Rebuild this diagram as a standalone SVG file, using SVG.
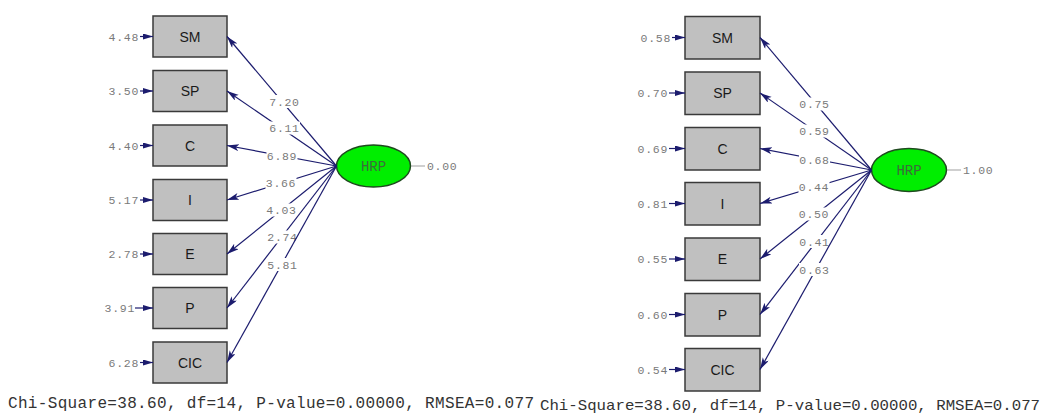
<svg xmlns="http://www.w3.org/2000/svg" width="1043" height="417" viewBox="0 0 1043 417">
<defs>
<style>
.box{fill:#c0c0c0;stroke:#3a3a3a;stroke-width:1.5}
.bl{font-family:"Liberation Sans",Arial,sans-serif;font-size:14px;fill:#1a1a1a;text-anchor:middle}
.num{font-family:"Liberation Mono","Courier New",monospace;font-size:11.5px;letter-spacing:0.7px;fill:#7a7a7a}
.lbl{font-family:"Liberation Mono","Courier New",monospace;font-size:11.5px;letter-spacing:0.7px;fill:#7a7a7a;text-anchor:middle}
.bg{fill:#ffffff}
.ln{stroke:#1c1c6e;stroke-width:1.2;fill:none;marker-end:url(#ah)}
.er{stroke:#1c1c6e;stroke-width:1.2;fill:none;marker-end:url(#ah2)}
.lat{fill:#00ee00;stroke:#1e4a1e;stroke-width:1.5}
.lt{font-family:"Liberation Mono","Courier New",monospace;font-size:14px;fill:#3d6b3d;text-anchor:middle}
.gl{stroke:#b0b0b0;stroke-width:1.2}
.chi{font-family:"Liberation Mono","Courier New",monospace;font-size:16px;fill:#333333}
</style>
<marker id="ah" markerUnits="userSpaceOnUse" markerWidth="14" markerHeight="9" refX="12" refY="3.5" orient="auto">
<path d="M0,0 L12,3.5 L0,7 L3,3.5 z" fill="#1c1c6e"/>
</marker>
<marker id="ah2" markerUnits="userSpaceOnUse" markerWidth="12" markerHeight="8" refX="10" refY="3" orient="auto">
<path d="M0,0 L10,3 L0,6 z" fill="#1c1c6e"/>
</marker>
</defs>
<rect width="1043" height="417" fill="#ffffff"/>

<!-- LEFT DIAGRAM -->
<g id="L-SM"><rect class="box" x="153" y="16" width="74" height="41"/><text class="bl" x="190" y="41.5">SM</text></g>
<g id="L-SP"><rect class="box" x="153" y="70.5" width="74" height="41"/><text class="bl" x="190" y="96">SP</text></g>
<g id="L-C"><rect class="box" x="153" y="125" width="74" height="41"/><text class="bl" x="190" y="150.5">C</text></g>
<g id="L-I"><rect class="box" x="153" y="179.5" width="74" height="41"/><text class="bl" x="190" y="205">I</text></g>
<g id="L-E"><rect class="box" x="153" y="233.5" width="74" height="41"/><text class="bl" x="190" y="259">E</text></g>
<g id="L-P"><rect class="box" x="153" y="287.5" width="74" height="41"/><text class="bl" x="190" y="313">P</text></g>
<g id="L-CIC"><rect class="box" x="153" y="342" width="74" height="41"/><text class="bl" x="190" y="367.5">CIC</text></g>
<g id="L-HRP"><ellipse class="lat" cx="373.5" cy="166" rx="37" ry="21"/><text class="lt" x="373.5" y="170.5">HRP</text></g>

<g id="L-connectors">
<text class="num" x="139" y="40.5" text-anchor="end">4.48</text><line class="er" x1="140" y1="36.5" x2="153" y2="36.5"/>
<text class="num" x="139" y="95" text-anchor="end">3.50</text><line class="er" x1="140" y1="91" x2="153" y2="91"/>
<text class="num" x="139" y="149.5" text-anchor="end">4.40</text><line class="er" x1="140" y1="145.5" x2="153" y2="145.5"/>
<text class="num" x="139" y="204" text-anchor="end">5.17</text><line class="er" x1="140" y1="200" x2="153" y2="200"/>
<text class="num" x="139" y="258" text-anchor="end">2.78</text><line class="er" x1="140" y1="254" x2="153" y2="254"/>
<text class="num" x="135" y="312" text-anchor="end">3.91</text><line class="er" x1="135" y1="308" x2="153" y2="308"/>
<text class="num" x="139" y="366.5" text-anchor="end">6.28</text><line class="er" x1="140" y1="362.5" x2="153" y2="362.5"/>

<line class="gl" x1="411" y1="166" x2="425" y2="166"/>
<text class="num" x="427" y="170">0.00</text>

<line class="ln" x1="336.5" y1="166" x2="227" y2="36.5"/>
<rect class="bg" x="269" y="95" width="31" height="13"/><text class="lbl" x="284.5" y="105.5">7.20</text>
<line class="ln" x1="336.5" y1="166" x2="227" y2="91"/>
<rect class="bg" x="269" y="121.5" width="31" height="13"/><text class="lbl" x="284.5" y="132">6.11</text>
<line class="ln" x1="336.5" y1="166" x2="227" y2="145.5"/>
<rect class="bg" x="266.5" y="149" width="31" height="13"/><text class="lbl" x="282" y="159.5">6.89</text>
<line class="ln" x1="336.5" y1="166" x2="227" y2="200"/>
<rect class="bg" x="265.5" y="176" width="31" height="13"/><text class="lbl" x="281" y="186.5">3.66</text>
<line class="ln" x1="336.5" y1="166" x2="227" y2="254"/>
<rect class="bg" x="266" y="203.5" width="31" height="13"/><text class="lbl" x="281.5" y="214">4.03</text>
<line class="ln" x1="336.5" y1="166" x2="227" y2="308"/>
<rect class="bg" x="267" y="230.5" width="31" height="13"/><text class="lbl" x="282.5" y="241">2.74</text>
<line class="ln" x1="336.5" y1="166" x2="227" y2="362.5"/>
<rect class="bg" x="267" y="258" width="31" height="13"/><text class="lbl" x="282.5" y="268.5">5.81</text>
</g>

<!-- RIGHT DIAGRAM -->
<g id="R-SM"><rect class="box" x="685" y="16.5" width="75" height="42.5"/><text class="bl" x="722.5" y="42.5">SM</text></g>
<g id="R-SP"><rect class="box" x="685" y="72" width="75" height="42.5"/><text class="bl" x="722.5" y="98">SP</text></g>
<g id="R-C"><rect class="box" x="685" y="127.5" width="75" height="42.5"/><text class="bl" x="722.5" y="153.5">C</text></g>
<g id="R-I"><rect class="box" x="685" y="182.5" width="75" height="42.5"/><text class="bl" x="722.5" y="208.5">I</text></g>
<g id="R-E"><rect class="box" x="685" y="238" width="75" height="42.5"/><text class="bl" x="722.5" y="264">E</text></g>
<g id="R-P"><rect class="box" x="685" y="293.5" width="75" height="42.5"/><text class="bl" x="722.5" y="319.5">P</text></g>
<g id="R-CIC"><rect class="box" x="685" y="348.5" width="75" height="42.5"/><text class="bl" x="722.5" y="374.5">CIC</text></g>
<g id="R-HRP"><ellipse class="lat" cx="909" cy="170" rx="37.5" ry="21.5"/><text class="lt" x="909" y="174.5">HRP</text></g>

<g id="R-connectors">
<text class="num" x="671" y="41.5" text-anchor="end">0.58</text><line class="er" x1="672" y1="37.5" x2="685" y2="37.5"/>
<text class="num" x="668" y="97" text-anchor="end">0.70</text><line class="er" x1="669" y1="93" x2="685" y2="93"/>
<text class="num" x="668" y="152.5" text-anchor="end">0.69</text><line class="er" x1="669" y1="148.5" x2="685" y2="148.5"/>
<text class="num" x="668" y="207.5" text-anchor="end">0.81</text><line class="er" x1="669" y1="203.5" x2="685" y2="203.5"/>
<text class="num" x="668" y="263" text-anchor="end">0.55</text><line class="er" x1="669" y1="259" x2="685" y2="259"/>
<text class="num" x="668" y="318.5" text-anchor="end">0.60</text><line class="er" x1="669" y1="314.5" x2="685" y2="314.5"/>
<text class="num" x="668" y="373.5" text-anchor="end">0.54</text><line class="er" x1="669" y1="369.5" x2="685" y2="369.5"/>

<line class="gl" x1="947" y1="170" x2="961" y2="170"/>
<text class="num" x="963" y="174">1.00</text>

<line class="ln" x1="871.5" y1="170" x2="760" y2="37.5"/>
<rect class="bg" x="799" y="97.5" width="31" height="13"/><text class="lbl" x="814.5" y="108">0.75</text>
<line class="ln" x1="871.5" y1="170" x2="760" y2="93"/>
<rect class="bg" x="799" y="124.5" width="31" height="13"/><text class="lbl" x="814.5" y="135">0.59</text>
<line class="ln" x1="871.5" y1="170" x2="760" y2="148.5"/>
<rect class="bg" x="799" y="153" width="31" height="13"/><text class="lbl" x="814.5" y="163.5">0.68</text>
<line class="ln" x1="871.5" y1="170" x2="760" y2="203.5"/>
<rect class="bg" x="798.5" y="180" width="31" height="13"/><text class="lbl" x="814" y="190.5">0.44</text>
<line class="ln" x1="871.5" y1="170" x2="760" y2="259"/>
<rect class="bg" x="798.5" y="207.5" width="31" height="13"/><text class="lbl" x="814" y="218">0.50</text>
<line class="ln" x1="871.5" y1="170" x2="760" y2="314.5"/>
<rect class="bg" x="799" y="235" width="31" height="13"/><text class="lbl" x="814.5" y="245.5">0.41</text>
<line class="ln" x1="871.5" y1="170" x2="760" y2="369.5"/>
<rect class="bg" x="799" y="263" width="31" height="13"/><text class="lbl" x="814.5" y="273.5">0.63</text>
</g>

<text class="chi" x="8" y="407.5" textLength="526" lengthAdjust="spacing">Chi-Square=38.60, df=14, P-value=0.00000, RMSEA=0.077</text>
<text class="chi" x="540" y="409.5" font-size="15" textLength="500" lengthAdjust="spacingAndGlyphs" style="font-size:15px">Chi-Square=38.60, df=14, P-value=0.00000, RMSEA=0.077</text>
</svg>
